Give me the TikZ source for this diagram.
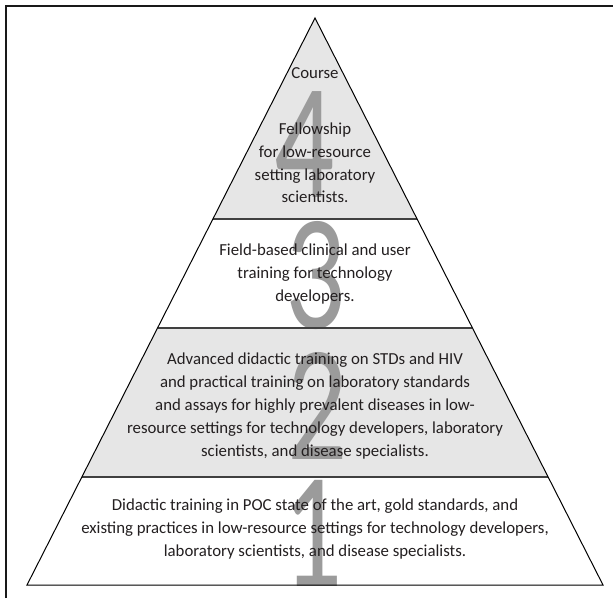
\documentclass[tikz,border=0pt]{standalone}
\usepackage{fontspec}
\setmainfont{Carlito}
\usetikzlibrary{calc}
\definecolor{layergray}{HTML}{E6E6E6}
\definecolor{numgray}{HTML}{9B9B9B}
\definecolor{txt}{HTML}{231F20}
\tikzset{
  layertext/.style={align=center, text=txt, font=\fontsize{16.8}{22.8}\selectfont, inner sep=0pt},
  bignum/.style={text=numgray, font=\fontsize{165}{165}\selectfont, inner sep=0pt, xscale=0.72},
  outline/.style={draw=black, line width=1pt, line join=miter},
  divider/.style={draw=black!75, line width=1.4pt},
}
\begin{document}
\begin{tikzpicture}[x=1pt,y=1pt]
\useasboundingbox (0,0) rectangle (613,598);
% frame
\draw[line width=2pt, black!90] (6,0) -- (6,592) -- (613,592);
% pyramid geometry
\coordinate (A) at (315,580);
\coordinate (BL) at (27,13);
\coordinate (BR) at (603,13);
\coordinate (L1) at ($(A)!0.3545!(BL)$);
\coordinate (R1) at ($(A)!0.3545!(BR)$);
\coordinate (L2) at ($(A)!0.5467!(BL)$);
\coordinate (R2) at ($(A)!0.5467!(BR)$);
\coordinate (L3) at ($(A)!0.8095!(BL)$);
\coordinate (R3) at ($(A)!0.8095!(BR)$);
% fills
\fill[layergray] (A) -- (L1) -- (R1) -- cycle;
\fill[white] (L1) -- (L2) -- (R2) -- (R1) -- cycle;
\fill[layergray] (L2) -- (L3) -- (R3) -- (R2) -- cycle;
\fill[white] (L3) -- (BL) -- (BR) -- (R3) -- cycle;
% big numerals
\begin{scope}
\clip (A) -- (BL) -- (BR) -- cycle;
\node[bignum] (n4) at (305,453) {4};
\node[bignum] (n3) at (316,322) {3};
\node[bignum] (n2) at (318,192) {2};
\node[bignum] (n1) at (313,65) {1};
\end{scope}
% outlines
\draw[divider] (L1) -- (R1);
\draw[divider] (L2) -- (R2);
\draw[divider] (L3) -- (R3);
\draw[outline] (A) -- (BL) -- (BR) -- cycle;
% texts
\node[layertext] (course) at (315,525) {Course};
\node[layertext] (t4) at (315,435) {Fellowship\\for low-resource\\setting laboratory\\scientists.};
\node[layertext] (t3) at (315,324) {Field-based clinical and user\\training for technology\\developers.};
\node[layertext] (t2) at (315,192) {Advanced didactic training on STDs and HIV\\and practical training on laboratory standards\\and assays for highly prevalent diseases in low-\\resource settings for technology developers, laboratory\\scientists, and disease specialists.};
\node[layertext] (t1) at (315,69) {Didactic training in POC state of the art, gold standards, and\\existing practices in low-resource settings for technology developers,\\laboratory scientists, and disease specialists.};
\end{tikzpicture}
\end{document}
